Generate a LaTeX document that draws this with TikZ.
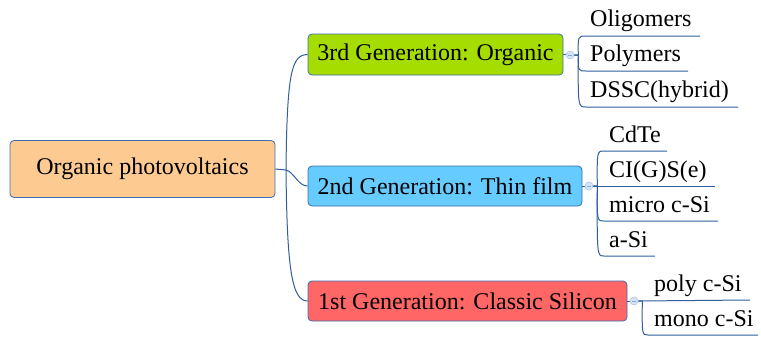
\documentclass[tikz,border=0pt]{standalone}
\usepackage{fontspec}
\setmainfont{Liberation Serif}
\newfontfamily\tms{Liberation Serif}
\begin{document}
\begin{tikzpicture}[x=1pt,y=-1pt,
  line/.style={draw=linec, line width=1pt},
  genbox/.style={draw=boxb, line width=0.8pt, rounded corners=4pt, inner sep=0pt, font=\tms\fontsize{24}{24}\selectfont},
  leaf/.style={anchor=base west, inner sep=0pt, font=\tms\fontsize{24}{24}\selectfont},
  knob/.style={circle, draw=knobb, fill=knobf, minimum size=8pt, inner sep=0pt, line width=0.6pt}]
\definecolor{linec}{HTML}{2F5F9C}
\definecolor{boxb}{HTML}{3A6EAF}
\definecolor{knobb}{HTML}{A9C4E8}
\definecolor{knobf}{HTML}{D6E4F7}
\definecolor{knobm}{HTML}{8AA8D0}
\definecolor{rootf}{HTML}{FDCB92}
\definecolor{g3f}{HTML}{A6DD00}
\definecolor{g2f}{HTML}{66CCFF}
\definecolor{g1f}{HTML}{FF6666}
\useasboundingbox (0,0) rectangle (761,338);

% root
\node[genbox, fill=rootf, minimum width=265pt, minimum height=57pt] (root) at (142.5,169) {Organic photovoltaics};
% generations
\node[genbox, fill=g3f, minimum width=255pt, minimum height=41pt] (g3) at (435.5,54.5) {3rd Generation: Organic};
\node[genbox, fill=g2f, minimum width=274pt, minimum height=40pt] (g2) at (445,186) {2nd Generation: Thin film};
\node[genbox, fill=g1f, minimum width=319pt, minimum height=40pt] (g1) at (467.5,301) {1st Generation: Classic Silicon};

\coordinate (hub) at (286,170);
\draw[line] (root.east) -- (hub);
\draw[line] (hub) .. controls (287,70) and (292,55) .. (g3.west);
\draw[line] (hub) .. controls (294,172) and (298,186) .. (g2.west);
\draw[line] (hub) .. controls (287,270) and (292,301) .. (g1.west);

% knobs
\draw[line] (g3.east) -- ++(8,0) coordinate (k3c);
\draw[line] (g2.east) -- ++(8,0) coordinate (k2c);
\draw[line] (g1.east) -- ++(8,0) coordinate (k1c);
\node[knob] (k3) at (570,55) {};
\node[knob] (k2) at (589,186) {};
\node[knob] (k1) at (634,301) {};
\foreach \k in {k3,k2,k1}{\draw[knobm, line width=0.6pt] ([xshift=-2pt]\k.center) -- ([xshift=2pt]\k.center);}

% 3rd gen leaves
\node[leaf] (l31) at (590,26) {Oligomers};
\node[leaf] (l32) at (590,61) {Polymers};
\node[leaf] (l33) at (590,97) {DSSC(hybrid)};
\coordinate (e31) at (700,36);
\coordinate (e32) at (688,71);
\coordinate (e33) at (738,107);
\draw[line] (k3.east) -- ++(4,0) .. controls (578,36) .. (586,36) -- (e31);
\draw[line] (k3.east) -- ++(4,0) .. controls (578,71) .. (586,71) -- (e32);
\draw[line] (k3.east) -- ++(4,0) .. controls (578,107) .. (586,107) -- (e33);

% 2nd gen leaves
\node[leaf] (l21) at (609,142) {CdTe};
\node[leaf] (l22) at (609,177) {CI(G)S(e)};
\node[leaf] (l23) at (609,212) {micro c-Si};
\node[leaf] (l24) at (609,247) {a-Si};
\coordinate (e21) at (667,151);
\coordinate (e22) at (715,186);
\coordinate (e23) at (718,221);
\coordinate (e24) at (655,256);
\draw[line] (k2.east) -- ++(4,0) .. controls (597,151) .. (604,151) -- (e21);
\draw[line] (k2.east) -- (e22);
\draw[line] (k2.east) -- ++(4,0) .. controls (597,221) .. (604,221) -- (e23);
\draw[line] (k2.east) -- ++(4,0) .. controls (597,256) .. (604,256) -- (e24);

% 1st gen leaves
\node[leaf] (l11) at (654,291) {poly c-Si};
\node[leaf] (l12) at (654,326) {mono c-Si};
\coordinate (e11) at (750,300);
\coordinate (e12) at (758,335);
\draw[line] (k1.east) -- (e11);
\draw[line] (k1.east) -- ++(4,0) .. controls (642,335) .. (648,335) -- (e12);
\end{tikzpicture}
\end{document}
